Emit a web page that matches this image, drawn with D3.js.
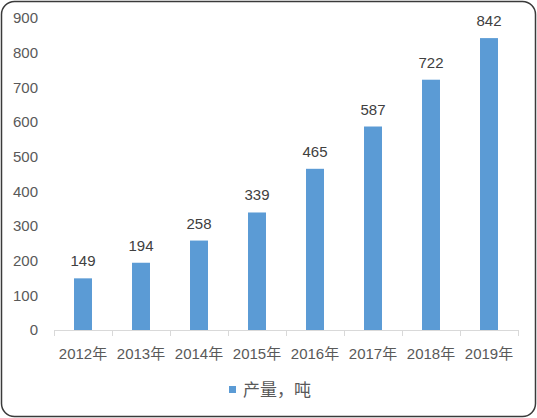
<!DOCTYPE html>
<html>
<head>
<meta charset="utf-8">
<script src="https://cdn.jsdelivr.net/npm/d3@7"></script>
<style>
  body { margin: 0; background: #fff; }
  text { font-family: "Liberation Sans", Arial, "Noto Sans CJK SC", sans-serif; }
</style>
</head>
<body>
<div id="chart"></div>
<script>
// data
var years = ["2012年", "2013年", "2014年", "2015年", "2016年", "2017年", "2018年", "2019年"];
var output = [149, 194, 258, 339, 465, 587, 722, 842];
var yTicks = [0, 100, 200, 300, 400, 500, 600, 700, 800, 900];
var seriesName = "产量，吨";

var W = 537, H = 418;
var barColor = "#5b9bd5";

var svg = d3.select("#chart")
  .append("svg")
    .attr("width", W)
    .attr("height", H);

// outer frame
svg.append("rect")
  .attr("x", 1.5).attr("y", 1.5)
  .attr("width", W - 3).attr("height", H - 3)
  .attr("rx", 13).attr("ry", 13)
  .style("fill", "#fff")
  .style("stroke", "#3a3a3a")
  .style("stroke-width", 1.5);

// scales
var x = d3.scaleBand().domain(years).range([54, 518]).paddingInner(0.69).paddingOuter(0.345);
var y = d3.scaleLinear().domain([0, 900]).range([330, 18]);

// y tick labels (no axis line)
svg.append("g")
  .selectAll("text")
  .data(yTicks)
  .join("text")
    .attr("x", 38)
    .attr("y", d => y(d))
    .attr("dy", "0.36em")
    .attr("text-anchor", "end")
    .attr("font-size", 15)
    .attr("fill", "#595959")
    .text(d => d);

// bars
svg.append("g")
  .selectAll("rect")
  .data(output)
  .join("rect")
    .attr("x", (d, i) => x(years[i]))
    .attr("y", d => y(d))
    .attr("width", x.bandwidth())
    .attr("height", d => y(0) - y(d))
    .style("fill", barColor);

// value labels
svg.append("g")
  .selectAll("text")
  .data(output)
  .join("text")
    .attr("x", (d, i) => x(years[i]) + x.bandwidth() / 2)
    .attr("y", d => y(d) - 12)
    .attr("text-anchor", "middle")
    .attr("font-size", 15)
    .attr("fill", "#404040")
    .text(d => d);

// x axis
var step = x.step();
var xAxis = svg.append("g");
xAxis.append("line")
  .attr("x1", 54).attr("x2", 518)
  .attr("y1", y(0) + 0.5).attr("y2", y(0) + 0.5)
  .style("stroke", "#d9d9d9");
xAxis.selectAll(".tick")
  .data(d3.range(years.length + 1))
  .join("line")
    .attr("class", "tick")
    .attr("x1", i => 54 + i * step + 0.5)
    .attr("x2", i => 54 + i * step + 0.5)
    .attr("y1", y(0))
    .attr("y2", y(0) + 6)
    .style("stroke", "#d9d9d9");
xAxis.selectAll("text")
  .data(years)
  .join("text")
    .attr("x", d => x(d) + x.bandwidth() / 2)
    .attr("y", 359)
    .attr("text-anchor", "middle")
    .attr("font-size", 15)
    .attr("fill", "#595959")
    .text(d => d);

// legend
var legend = svg.append("g");
legend.append("rect")
  .attr("x", 229).attr("y", 386)
  .attr("width", 7).attr("height", 7)
  .style("fill", barColor);
legend.append("text")
  .attr("x", 243).attr("y", 396)
  .attr("font-size", 17)
  .attr("fill", "#595959")
  .text(seriesName);
</script>
</body>
</html>
